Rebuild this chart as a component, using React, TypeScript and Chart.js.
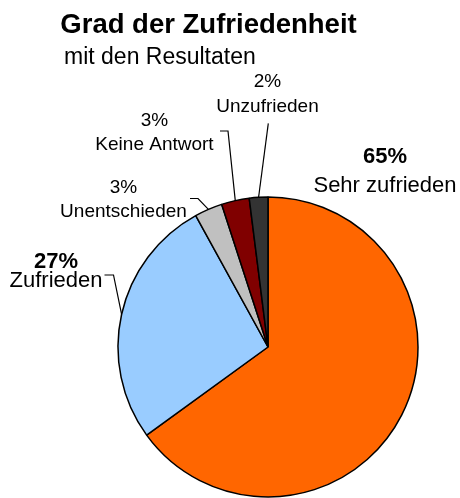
import React, { useEffect, useRef } from "react";
import { Chart, registerables } from "chart.js";

Chart.register(...registerables);

// ---- data ----
const categories = ["Sehr zufrieden", "Zufrieden", "Unentschieden", "Keine Antwort", "Unzufrieden"];
const values = [65, 27, 3, 3, 2];
const pctLabels = ["65%", "27%", "3%", "3%", "2%"];
const colors = ["#FF6600", "#99CCFF", "#C0C0C0", "#800000", "#333333"];
const titleText = "Grad der Zufriedenheit";
const subtitleText = "mit den Resultaten";

// ---- label layout (offsets from the pie centre, px) ----
type LabelLayout = {
  x: number; pctY: number; nameY: number; big: boolean;
  leader: number[][] | null; // points before the arc midpoint
};
const labelLayout: LabelLayout[] = [
  { x: 117, pctY: -184, nameY: -155, big: true, leader: null },
  { x: -212, pctY: -79, nameY: -60, big: true, leader: [[-163.5, -72], [-154.5, -72]] },
  { x: -144.5, pctY: -154, nameY: -130, big: false, leader: [[-78, -148.5], [-70, -148.5]] },
  { x: -113.5, pctY: -221, nameY: -197, big: false, leader: [[-48, -216], [-40, -216]] },
  { x: -0.5, pctY: -260, nameY: -235, big: false, leader: [[0.3, -223.7]] },
];

const FONT = "'Liberation Sans', Arial, Helvetica, sans-serif";

const labelPlugin = {
  id: "excelLabels",
  afterDatasetsDraw(chart: any) {
    const ctx = chart.ctx as CanvasRenderingContext2D;
    const meta = chart.getDatasetMeta(0);
    const first = meta.data[0] as any;
    const cx = first.x;
    const cy = first.y;
    ctx.save();
    // title
    ctx.fillStyle = "#000";
    ctx.textAlign = "center";
    ctx.textBaseline = "alphabetic";
    ctx.font = `bold 27.5px ${FONT}`;
    ctx.fillText(titleText, cx - 59.5, cy - 314);
    ctx.textAlign = "left";
    ctx.font = `23px ${FONT}`;
    ctx.fillText(subtitleText, cx - 204, cy - 283);

    meta.data.forEach((arc: any, i: number) => {
      const L = labelLayout[i];
      const props = arc.getProps(["x", "y", "startAngle", "endAngle", "outerRadius"], true);
      const mid = (props.startAngle + props.endAngle) / 2;
      const ex = props.x + Math.cos(mid) * props.outerRadius;
      const ey = props.y + Math.sin(mid) * props.outerRadius;
      if (L.leader) {
        ctx.beginPath();
        ctx.strokeStyle = "#000";
        ctx.lineWidth = 1.2;
        L.leader.forEach((p, k) => {
          if (k === 0) ctx.moveTo(cx + p[0], cy + p[1]);
          else ctx.lineTo(cx + p[0], cy + p[1]);
        });
        ctx.lineTo(ex, ey);
        ctx.stroke();
      }
      ctx.fillStyle = "#000";
      ctx.textAlign = "center";
      if (L.big) {
        ctx.font = `bold 22px ${FONT}`;
        ctx.fillText(pctLabels[i], cx + L.x, cy + L.pctY);
        ctx.font = `22px ${FONT}`;
        ctx.fillText(categories[i], cx + L.x, cy + L.nameY);
      } else {
        ctx.font = `19px ${FONT}`;
        ctx.fillText(pctLabels[i], cx + L.x, cy + L.pctY);
        ctx.fillText(categories[i], cx + L.x, cy + L.nameY);
      }
    });
    ctx.restore();
  },
};

export default function App() {
  const ref = useRef<HTMLCanvasElement>(null);
  useEffect(() => {
    if (!ref.current) return;
    const chart = new Chart(ref.current, {
      type: "pie",
      data: {
        labels: categories,
        datasets: [
          {
            data: values,
            backgroundColor: colors,
            borderColor: "#000",
            borderWidth: 1.5,
            borderAlign: "center",
            radius: 150,
          } as any,
        ],
      },
      options: {
        responsive: false,
        animation: false,
        layout: { padding: { left: 118, right: 42, top: 197, bottom: 1 } },
        plugins: {
          legend: { display: false },
          tooltip: { enabled: false },
          title: { display: false },
        },
      },
      plugins: [labelPlugin],
    });
    return () => chart.destroy();
  }, []);
  return (
    <div style={{ position: "fixed", left: 0, top: 0, width: 460, height: 498, background: "#fff" }}>
      <canvas ref={ref} width={460} height={498} style={{ display: "block" }} />
    </div>
  );
}
